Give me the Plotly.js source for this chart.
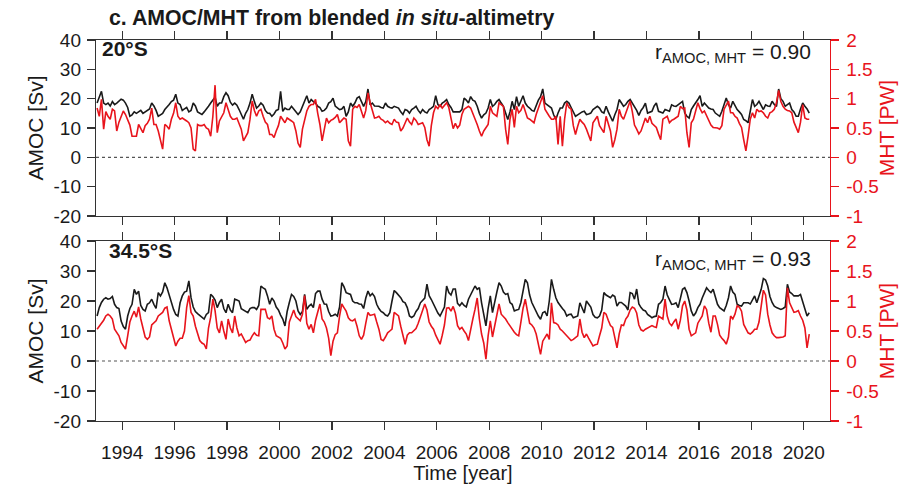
<!DOCTYPE html>
<html>
<head>
<meta charset="utf-8">
<script src="https://cdn.plot.ly/plotly-3.0.1.min.js"></script>
<style>
  html, body { margin: 0; padding: 0; background: #ffffff; }
  #chart { width: 919px; height: 484px; }
</style>
</head>
<body>
<div id="chart"></div>
<script>
// Monthly series, first value = January 1993
const startYear = 1993;

// AMOC at 20°S [Sv]
const amoc20S = [
  18.5, 20.5, 22.5, 18.5, 18.0, 18.5, 17.5, 19.0, 18.0, 18.5, 19.0, 19.8,
  19.5, 18.5, 17.0, 14.0, 14.5, 15.5, 15.0, 15.5, 16.0, 15.0, 15.5, 16.0,
  16.5, 18.5, 17.5, 16.0, 14.0, 14.5, 15.0, 16.3, 17.0, 18.0, 19.0, 19.5,
  21.5, 18.5, 18.0, 16.0, 16.5, 17.0, 15.5, 16.0, 18.5, 17.5, 15.5, 15.0,
  14.6, 15.5, 16.3, 17.4, 18.5, 19.7, 20.5, 17.4, 18.5, 18.5, 20.7, 22.0,
  21.0, 18.8, 17.8, 18.5, 17.8, 16.3, 14.5, 13.0, 15.0, 16.3, 18.5, 21.5,
  19.0, 16.8, 17.5, 18.5, 17.8, 16.0, 15.1, 15.0, 14.0, 14.8, 16.0, 16.3,
  22.5, 15.7, 16.8, 16.3, 16.3, 17.4, 16.5, 15.7, 14.6, 15.5, 17.4, 19.5,
  21.0, 18.5, 19.7, 19.0, 18.5, 17.4, 17.0, 15.7, 16.0, 16.8, 18.5, 19.0,
  20.2, 17.5, 16.8, 16.3, 16.5, 17.4, 14.0, 15.5, 18.5, 17.4, 18.5, 20.2,
  20.7, 19.1, 17.4, 19.0, 23.3, 17.9, 18.5, 17.5, 17.4, 17.4, 17.0, 16.8,
  18.5, 17.4, 17.0, 16.8, 17.4, 17.0, 16.8, 15.5, 14.6, 16.3, 16.0, 15.1,
  16.3, 16.8, 17.4, 16.0, 15.1, 16.3, 15.5, 15.1, 16.3, 16.8, 17.4, 21.0,
  18.0, 17.4, 18.5, 19.0, 19.7, 18.0, 17.0, 15.5, 15.5, 15.5, 15.5, 16.3,
  20.2, 19.5, 18.5, 20.7, 19.5, 19.1, 17.4, 15.0, 13.4, 14.5, 15.1, 16.8,
  19.7, 17.4, 18.0, 19.1, 19.7, 18.5, 17.4, 15.1, 12.9, 15.5, 19.1, 16.3,
  20.7, 17.4, 19.0, 21.0, 18.5, 17.4, 16.8, 16.0, 15.7, 17.9, 19.5, 20.7,
  23.3, 18.5, 18.0, 17.4, 16.8, 14.5, 12.9, 15.1, 16.8, 16.8, 18.5, 19.1,
  18.5, 17.0, 15.7, 14.0, 14.5, 15.1, 15.5, 15.7, 14.6, 14.8, 15.1, 16.3,
  17.0, 17.4, 16.8, 15.5, 15.1, 17.4, 15.5, 14.0, 12.3, 14.5, 16.3, 19.7,
  18.5, 17.4, 18.0, 19.1, 19.7, 18.5, 17.0, 16.0, 14.3, 16.0, 17.0, 18.5,
  15.1, 15.5, 15.7, 17.5, 18.5, 15.7, 15.5, 15.1, 16.3, 16.0, 15.7, 17.9,
  17.5, 17.4, 17.9, 18.5, 19.1, 15.1, 14.0, 13.4, 16.3, 17.5, 18.5, 19.7,
  21.0, 17.4, 18.5, 17.5, 16.8, 16.5, 16.3, 15.1, 14.5, 14.0, 15.7, 18.0,
  20.2, 18.0, 16.8, 19.1, 17.5, 16.3, 15.5, 14.6, 12.9, 12.5, 11.8, 15.7,
  19.7, 17.4, 18.0, 19.1, 17.5, 16.3, 17.9, 17.5, 17.4, 19.1, 18.0, 17.4,
  23.3, 20.0, 19.1, 17.4, 18.0, 18.5, 16.3, 15.5, 14.0, 14.0, 16.5, 18.5,
  17.4, 16.5, 15.1
];

// MHT at 20°S [PW]
const mht20S = [
  0.84, 0.70, 0.99, 0.48, 0.78, 0.70, 0.65, 0.82, 0.79, 0.45, 0.60, 0.70,
  0.79, 0.73, 0.65, 0.55, 0.36, 0.36, 0.36, 0.56, 0.48, 0.42, 0.54, 0.58,
  0.65, 0.84, 0.56, 0.56, 0.45, 0.30, 0.14, 0.56, 0.53, 0.48, 0.65, 0.75,
  0.93, 0.70, 0.65, 0.67, 0.65, 0.62, 0.59, 0.50, 0.14, 0.11, 0.56, 0.54,
  0.54, 0.56, 0.50, 0.48, 0.36, 0.70, 1.23, 0.42, 0.62, 0.70, 0.76, 0.93,
  0.80, 0.70, 0.65, 0.65, 0.67, 0.58, 0.48, 0.28, 0.35, 0.42, 0.65, 0.96,
  0.80, 0.70, 0.79, 0.82, 0.70, 0.60, 0.56, 0.39, 0.39, 0.34, 0.45, 0.54,
  0.70, 0.65, 0.59, 0.67, 0.65, 0.62, 0.59, 0.45, 0.24, 0.17, 0.48, 0.63,
  0.79, 0.87, 0.90, 0.90, 0.99, 0.75, 0.56, 0.28, 0.45, 0.67, 0.59, 0.63,
  0.65, 0.68, 0.73, 0.59, 0.63, 0.67, 0.65, 0.28, 0.19, 0.82, 0.87, 0.85,
  0.90, 0.78, 0.67, 0.80, 1.10, 0.93, 0.79, 0.67, 0.68, 0.70, 0.65, 0.63,
  0.59, 0.62, 0.58, 0.56, 0.65, 0.60, 0.59, 0.45, 0.50, 0.59, 0.67, 0.60,
  0.56, 0.67, 0.63, 0.56, 0.58, 0.59, 0.51, 0.30, 0.19, 0.54, 0.76, 0.87,
  0.83, 0.90, 0.84, 0.88, 0.93, 0.85, 0.68, 0.49, 0.58, 0.50, 0.55, 0.73,
  0.82, 0.85, 0.87, 0.84, 0.75, 0.67, 0.56, 0.45, 0.36, 0.45, 0.50, 0.56,
  0.87, 0.76, 0.73, 0.70, 0.93, 0.90, 0.87, 0.48, 0.22, 0.65, 0.82, 0.51,
  0.87, 0.76, 0.80, 0.90, 0.78, 0.67, 0.65, 0.62, 0.59, 0.73, 0.85, 0.96,
  1.05, 0.82, 0.75, 0.70, 0.65, 0.65, 0.70, 0.22, 0.70, 0.19, 0.65, 0.93,
  0.85, 0.82, 0.54, 0.39, 0.53, 0.65, 0.60, 0.56, 0.48, 0.38, 0.28, 0.59,
  0.65, 0.70, 0.54, 0.48, 0.42, 0.70, 0.58, 0.45, 0.17, 0.30, 0.48, 0.82,
  0.70, 0.65, 0.75, 0.87, 0.96, 0.78, 0.55, 0.48, 0.40, 0.45, 0.58, 0.67,
  0.59, 0.70, 0.58, 0.54, 0.51, 0.40, 0.30, 0.65, 0.68, 0.70, 0.59, 0.63,
  0.65, 0.68, 0.70, 0.87, 0.83, 0.84, 0.42, 0.17, 0.59, 0.65, 0.79, 0.93,
  0.83, 0.76, 0.79, 0.70, 0.62, 0.55, 0.51, 0.51, 0.50, 0.48, 0.54, 0.82,
  0.88, 0.96, 0.76, 0.76, 0.70, 0.67, 0.58, 0.51, 0.30, 0.11, 0.36, 0.65,
  0.76, 0.67, 0.82, 0.78, 0.79, 0.76, 0.70, 0.67, 0.76, 0.78, 0.82, 0.93,
  1.14, 0.95, 0.87, 0.82, 0.80, 0.79, 0.76, 0.60, 0.51, 0.42, 0.60, 0.90,
  0.67, 0.65, 0.65
];

// AMOC at 34.5°S [Sv]
const amoc345S = [
  15.0, 17.8, 19.5, 20.6, 21.1, 20.6, 20.8, 21.5, 18.9, 17.8, 17.5, 13.3,
  11.5, 10.6, 15.0, 17.5, 18.9, 23.9, 22.2, 23.3, 18.5, 17.2, 16.7, 18.9,
  19.4, 20.6, 18.9, 17.5, 22.8, 21.7, 23.0, 26.1, 24.4, 22.0, 19.4, 17.2,
  15.5, 15.0, 19.4, 21.7, 23.0, 23.3, 26.7, 21.1, 18.0, 16.5, 15.8, 15.2,
  14.4, 14.0, 15.5, 16.1, 22.2, 21.5, 20.3, 17.8, 19.5, 20.6, 17.5, 16.1,
  18.9, 17.0, 16.1, 20.6, 20.3, 20.0, 17.4, 17.0, 16.7, 16.1, 17.5, 17.8,
  17.8, 17.2, 18.5, 25.0, 24.4, 23.9, 21.7, 18.9, 21.0, 20.0, 18.0, 17.0,
  15.3, 14.0, 11.7, 16.5, 19.5, 22.2, 21.5, 20.0, 16.7, 15.5, 16.5, 22.2,
  17.2, 18.3, 18.9, 17.8, 22.5, 23.3, 23.3, 20.6, 19.0, 18.9, 16.5, 15.0,
  15.2, 15.6, 15.0, 18.0, 26.1, 24.8, 22.8, 22.5, 22.2, 20.0, 19.4, 19.4,
  19.0, 18.9, 17.5, 21.0, 23.3, 21.7, 22.5, 21.5, 18.9, 17.5, 16.5, 16.1,
  15.3, 15.0, 16.1, 20.0, 23.5, 22.8, 22.0, 21.1, 19.8, 19.4, 17.8, 15.0,
  14.5, 15.0, 16.5, 17.5, 19.4, 20.3, 21.0, 25.6, 21.8, 20.5, 18.9, 17.2,
  16.0, 15.0, 16.5, 18.0, 25.0, 22.8, 22.0, 24.0, 24.0, 19.2, 18.4, 19.4,
  18.5, 18.0, 20.6, 22.0, 23.5, 25.0, 23.9, 24.5, 19.4, 15.0, 11.7, 17.5,
  21.7, 16.1, 20.0, 23.0, 26.1, 25.0, 23.0, 22.2, 22.5, 19.5, 18.9, 16.7,
  17.0, 17.2, 19.5, 23.0, 27.2, 26.1, 22.0, 19.5, 17.8, 16.7, 15.0, 13.9,
  16.1, 16.5, 15.0, 20.0, 27.2, 23.9, 21.1, 19.5, 18.3, 17.5, 16.7, 15.0,
  15.5, 15.6, 14.4, 14.7, 15.0, 19.4, 17.5, 16.0, 20.0, 19.0, 18.0, 15.5,
  14.6, 14.4, 15.0, 17.0, 22.8, 22.0, 21.5, 21.1, 22.0, 21.5, 18.3, 19.5,
  19.5, 18.9, 18.3, 17.0, 22.8, 22.5, 20.6, 24.0, 19.0, 17.8, 17.0, 16.7,
  15.5, 15.0, 14.4, 14.8, 15.0, 18.9, 19.5, 20.6, 25.0, 22.0, 20.6, 18.9,
  19.0, 19.4, 17.8, 21.0, 23.9, 24.4, 22.8, 20.0, 16.7, 15.0, 16.0, 17.8,
  18.9, 21.0, 22.8, 24.4, 23.5, 22.8, 23.9, 21.0, 18.9, 17.8, 17.2, 16.7,
  18.5, 21.0, 25.0, 23.0, 22.2, 18.9, 18.5, 18.3, 19.4, 19.4, 19.4, 19.0,
  20.5, 21.7, 19.4, 21.5, 23.9, 27.5, 27.0, 25.0, 21.5, 19.5, 18.3, 17.8,
  17.5, 17.2, 17.5, 18.0, 25.6, 23.0, 22.5, 21.7, 21.7, 21.7, 22.2, 20.0,
  17.5, 15.0, 16.1
];

// MHT at 34.5°S [PW]
const mht345S = [
  0.53, 0.58, 0.61, 0.68, 0.75, 0.78, 0.75, 0.70, 0.53, 0.48, 0.42, 0.31,
  0.25, 0.20, 0.42, 0.65, 0.75, 0.83, 0.73, 0.90, 0.70, 0.56, 0.40, 0.36,
  0.40, 0.60, 0.64, 0.67, 0.75, 0.78, 0.81, 0.88, 0.90, 0.67, 0.53, 0.43,
  0.25, 0.33, 0.38, 0.38, 0.50, 0.89, 1.09, 0.81, 0.75, 0.58, 0.47, 0.34,
  0.30, 0.28, 0.20, 0.55, 0.73, 1.03, 0.84, 0.55, 0.47, 0.67, 0.50, 0.36,
  0.70, 0.55, 0.47, 0.75, 0.55, 0.42, 0.45, 0.38, 0.31, 0.34, 0.35, 0.42,
  0.47, 0.43, 0.42, 0.86, 0.86, 0.86, 0.72, 0.70, 0.75, 0.53, 0.42, 0.40,
  0.38, 0.30, 0.20, 0.25, 0.65, 0.75, 0.85, 0.74, 0.70, 0.67, 0.78, 1.09,
  0.63, 0.53, 0.61, 0.47, 0.68, 0.83, 0.95, 0.70, 0.65, 0.55, 0.38, 0.09,
  0.33, 0.44, 0.47, 0.75, 0.95, 0.89, 0.83, 0.72, 0.68, 0.67, 0.70, 0.58,
  0.42, 0.36, 0.43, 0.63, 0.81, 0.76, 0.77, 0.78, 0.65, 0.53, 0.36, 0.34,
  0.40, 0.47, 0.50, 0.53, 0.81, 0.78, 0.75, 0.58, 0.40, 0.28, 0.43, 0.47,
  0.47, 0.50, 0.54, 0.63, 0.73, 0.85, 0.95, 0.85, 0.65, 0.58, 0.53, 0.43,
  0.35, 0.28, 0.43, 0.60, 0.88, 0.89, 0.83, 0.91, 0.80, 0.59, 0.53, 0.56,
  0.50, 0.45, 0.34, 0.55, 0.70, 0.86, 1.05, 0.70, 0.45, 0.30, 0.03, 0.42,
  0.67, 0.40, 0.60, 0.78, 0.95, 0.78, 0.74, 0.70, 0.64, 0.58, 0.53, 0.48,
  0.44, 0.42, 0.65, 0.88, 1.03, 0.83, 0.63, 0.60, 0.55, 0.45, 0.25, 0.11,
  0.33, 0.40, 0.45, 0.36, 0.97, 0.64, 0.63, 0.60, 0.53, 0.50, 0.46, 0.42,
  0.38, 0.34, 0.36, 0.39, 0.42, 0.70, 0.48, 0.39, 0.45, 0.38, 0.31, 0.25,
  0.27, 0.28, 0.42, 0.55, 0.81, 0.78, 0.68, 0.59, 0.56, 0.40, 0.22, 0.45,
  0.60, 0.59, 0.70, 0.75, 0.85, 0.90, 0.88, 0.80, 0.60, 0.52, 0.50, 0.53,
  0.55, 0.56, 0.59, 0.57, 0.56, 0.75, 0.72, 0.70, 1.03, 0.75, 0.63, 0.59,
  0.65, 0.70, 0.53, 0.68, 0.92, 1.00, 0.85, 0.53, 0.42, 0.44, 0.47, 0.63,
  0.68, 0.75, 0.92, 0.86, 0.63, 0.48, 0.75, 0.75, 0.61, 0.43, 0.38, 0.34,
  0.28, 0.40, 0.75, 0.70, 0.78, 0.92, 0.90, 0.83, 0.61, 0.53, 0.47, 0.45,
  0.48, 0.53, 0.53, 0.65, 0.89, 1.18, 1.10, 0.78, 0.60, 0.47, 0.42, 0.39,
  0.39, 0.39, 0.40, 0.42, 1.22, 0.97, 0.88, 0.81, 0.82, 0.84, 0.75, 0.68,
  0.55, 0.22, 0.45
];

// Axis ticks and labels
const yearTicks = [1994, 1996, 1998, 2000, 2002, 2004, 2006, 2008, 2010, 2012, 2014, 2016, 2018, 2020];
const amocTicks = [-20, -10, 0, 10, 20, 30, 40];
const amocTickText = ['-20', '-10', '0', '10', '20', '30', '40'];
const mhtTicks = [-1, -0.5, 0, 0.5, 1, 1.5, 2];
const mhtTickText = ['-1', '-0.5', '0', '0.5', '1', '1.5', '2'];
const panelNames = ['20°S', '34.5°S'];
const correlations = ['0.90', '0.93'];

const RED = '#e8141c';
const INK = '#1a1a1a';
const FONT = 'Liberation Sans, Arial, Helvetica, sans-serif';
const TICK_SIZE = 19;
const LABEL_SIZE = 21;

// mid-month decimal year for each sample
const monthTime = (n) => Array.from({ length: n }, (_, i) => startYear + (i + 0.5) / 12);

const traces = [
  { x: monthTime(amoc20S.length), y: amoc20S, xaxis: 'x', yaxis: 'y', type: 'scatter', mode: 'lines',
    line: { color: INK, width: 1.6 }, name: 'AMOC 20°S' },
  { x: monthTime(mht20S.length), y: mht20S, xaxis: 'x', yaxis: 'y2', type: 'scatter', mode: 'lines',
    line: { color: RED, width: 1.6 }, name: 'MHT 20°S' },
  { x: monthTime(amoc345S.length), y: amoc345S, xaxis: 'x2', yaxis: 'y3', type: 'scatter', mode: 'lines',
    line: { color: INK, width: 1.6 }, name: 'AMOC 34.5°S' },
  { x: monthTime(mht345S.length), y: mht345S, xaxis: 'x2', yaxis: 'y4', type: 'scatter', mode: 'lines',
    line: { color: RED, width: 1.6 }, name: 'MHT 34.5°S' }
];

const xBase = {
  range: [1993, 2021], tickvals: yearTicks, ticks: 'outside', ticklen: 8, tickwidth: 1.2,
  tickcolor: '#333', showline: true, linecolor: '#333', linewidth: 1.2, mirror: 'ticks',
  showgrid: false, zeroline: false, fixedrange: true
};
const amocAxis = (domain, anchor) => ({
  domain, anchor, range: [-20, 40], tickvals: amocTicks, ticktext: amocTickText,
  ticks: 'outside', ticklen: 8, tickwidth: 1.2, tickcolor: '#333',
  showline: true, linecolor: '#333', linewidth: 1.2, showgrid: false, zeroline: false,
  tickfont: { size: TICK_SIZE, color: INK }, ticklabelstandoff: 2, fixedrange: true,
  title: { text: 'AMOC [Sv]', font: { size: LABEL_SIZE, color: INK }, standoff: 4 }
});
const mhtAxis = (over, anchor) => ({
  overlaying: over, anchor, side: 'right', range: [-1, 2], tickvals: mhtTicks, ticktext: mhtTickText,
  ticks: 'outside', ticklen: 8, tickwidth: 1.2, tickcolor: RED,
  showline: true, linecolor: RED, linewidth: 1.4, showgrid: false, zeroline: false,
  tickfont: { size: TICK_SIZE, color: RED }, ticklabelstandoff: 3, fixedrange: true,
  title: { text: 'MHT [PW]', font: { size: LABEL_SIZE, color: RED }, standoff: 1 }
});

const zeroLine = (yref, xref) => ({
  type: 'line', xref: xref + ' domain', x0: 0, x1: 1, yref, y0: 0, y1: 0,
  line: { color: '#555', width: 1.2, dash: 'dot' }
});

const labelAnn = (text, xref, yref, x, y) => ({
  text: '<b>' + text + '</b>', xref: xref + ' domain', yref: yref + ' domain',
  x, y, xanchor: 'left', yanchor: 'middle', showarrow: false,
  font: { size: LABEL_SIZE, color: INK, family: FONT }
});
const corrAnn = (value, xref, yref, y) => ({
  text: 'r<sub>AMOC, MHT</sub> = ' + value, xref: xref + ' domain', yref: yref + ' domain',
  x: 0.977, y, xanchor: 'right', yanchor: 'top', showarrow: false,
  font: { size: LABEL_SIZE, color: INK, family: FONT }
});

const layout = {
  width: 919, height: 484,
  margin: { l: 96, r: 89, t: 40, b: 63 },
  paper_bgcolor: '#ffffff', plot_bgcolor: '#ffffff',
  showlegend: false,
  font: { family: FONT, size: TICK_SIZE, color: INK },
  title: {
    text: '<b>c. AMOC/MHT from blended <i>in situ</i>-altimetry</b>',
    x: 109 / 919, xref: 'container', xanchor: 'left',
    y: 1 - 18 / 484, yref: 'container', yanchor: 'middle',
    font: { size: 21.3, color: INK }
  },
  xaxis: Object.assign({}, xBase, { anchor: 'y', domain: [0, 1], showticklabels: false }),
  yaxis: amocAxis([0.538, 1], 'x'),
  yaxis2: mhtAxis('y', 'x'),
  xaxis2: Object.assign({}, xBase, {
    anchor: 'y3', domain: [0, 1], showticklabels: true, tickfont: { size: TICK_SIZE, color: INK },
    ticklabelstandoff: 6,
    title: { text: 'Time [year]', font: { size: 20, color: INK }, standoff: 3 }
  }),
  yaxis3: amocAxis([0, 0.4724], 'x2'),
  yaxis4: mhtAxis('y3', 'x2'),
  shapes: [zeroLine('y', 'x'), zeroLine('y3', 'x2')],
  annotations: [
    labelAnn(panelNames[0], 'x', 'y', 0.005, 0.95),
    labelAnn(panelNames[1], 'x2', 'y3', 0.015, 0.95),
    corrAnn(correlations[0], 'x', 'y', 1.01),
    corrAnn(correlations[1], 'x2', 'y3', 0.98)
  ]
};

Plotly.newPlot('chart', traces, layout, { displayModeBar: false, staticPlot: true });
</script>
</body>
</html>
